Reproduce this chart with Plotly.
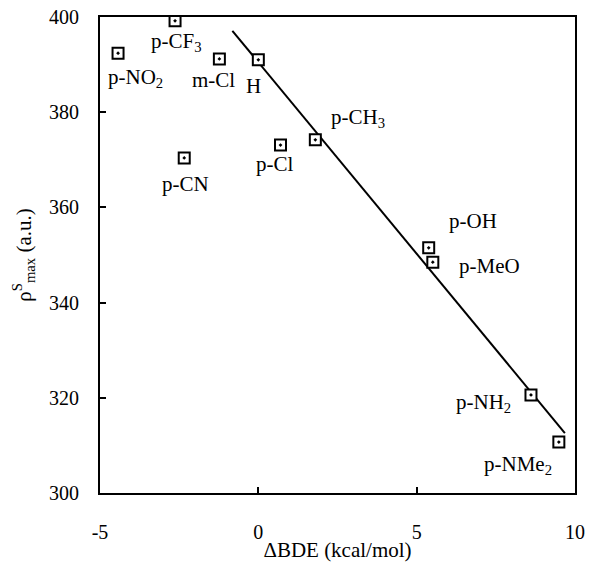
import plotly.graph_objects as go

labels = ["p-NO<sub>2</sub>", "p-CF<sub>3</sub>", "m-Cl", "H", "p-Cl", "p-CN", "p-CH<sub>3</sub>",
          "p-OH", "p-MeO", "p-NH<sub>2</sub>", "p-NMe<sub>2</sub>"]
dbde = [-4.43, -2.63, -1.23, 0.0, 0.70, -2.34, 1.80, 5.38, 5.51, 8.61, 9.49]
rho = [392.4, 399.2, 391.2, 391.0, 373.1, 370.4, 374.2, 351.5, 348.5, 320.6, 310.7]
label_x = [-3.89, -2.59, -1.42, -0.16, 0.54, -2.31, 3.16, 6.77, 7.31, 7.12, 8.2]
label_y = [387.2, 394.7, 386.8, 385.5, 369.1, 364.9, 378.8, 357.1, 347.7, 318.9, 305.9]
fit_x = [-0.82, 9.68]
fit_y = [397.1, 312.6]
x_ticks = [-5, 0, 5, 10]
x_ticktext = ["-5", "0", "5", "10"]
y_ticks = [300, 320, 340, 360, 380, 400]

FONT = "Liberation Serif, Times New Roman, serif"

fig = go.Figure()
fig.add_trace(go.Scatter(x=fit_x, y=fit_y, mode="lines",
                         line=dict(color="black", width=2), showlegend=False))
fig.add_trace(go.Scatter(x=dbde, y=rho, mode="markers",
                         marker=dict(symbol="square-dot", size=11, color="white",
                                     line=dict(color="black", width=2)),
                         showlegend=False))
for t, x, y in zip(labels, label_x, label_y):
    fig.add_annotation(x=x, y=y, text=t, showarrow=False, xanchor="center", yanchor="middle",
                       font=dict(family=FONT, size=21, color="black"))

axis_common = dict(showgrid=False, zeroline=False, showline=True, linecolor="black", linewidth=2,
                   mirror=True, ticks="inside", ticklen=6, tickwidth=1.5, tickcolor="black",
                   automargin=False,
                   tickfont=dict(family=FONT, size=20, color="black"))
fig.update_xaxes(range=[-5, 10], tickvals=x_ticks, ticktext=x_ticktext, ticklabelstandoff=20,
                 title=dict(text="ΔBDE (kcal/mol)", standoff=0,
                            font=dict(family=FONT, size=21, color="black")),
                 **axis_common)
fig.update_yaxes(range=[300, 400], tickvals=y_ticks, ticklabelstandoff=15,
                 title=dict(text="ρ<sup>S</sup><sub>max</sub> (a.u.)", standoff=12,
                            font=dict(family=FONT, size=21, color="black")),
                 **axis_common)
fig.update_layout(width=589, height=569, margin=dict(l=100, r=14, t=17, b=76),
                  font=dict(family=FONT, size=20, color="black"),
                  plot_bgcolor="white", paper_bgcolor="white")
fig.write_html("out.html", config={"displayModeBar": False},
               post_script="document.body.style.margin='0';")
